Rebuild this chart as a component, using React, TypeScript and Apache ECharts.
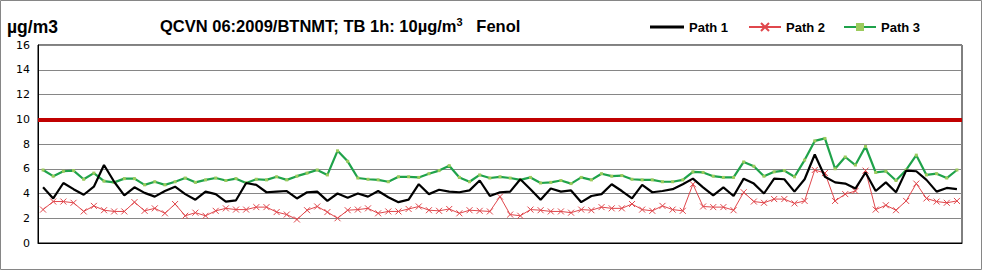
import React, { useEffect, useRef } from "react";
import * as echarts from "echarts";

const path1 = [
  4.5, 3.6, 4.85, 4.35, 3.9, 4.55, 6.3, 4.95, 3.85, 4.5, 4.05, 3.75, 4.2, 4.55, 3.95, 3.5,
  4.15, 3.95, 3.35, 3.45, 4.85, 4.7, 4.1, 4.15, 4.2, 3.6, 4.1, 4.15, 3.4, 4.0, 3.65,
  4.0, 3.75, 4.2, 3.7, 3.3, 3.5, 4.75, 3.95, 4.3, 4.15, 4.1, 4.25, 5.05, 3.8, 4.1,
  4.15, 5.15, 4.35, 3.5, 4.4, 4.15, 4.25, 3.3, 3.8, 3.95, 4.75, 4.2, 3.6, 4.7, 4.1,
  4.2, 4.35, 4.75, 5.2, 4.5, 3.85, 4.5, 3.8, 5.2, 4.8, 4.0, 5.2, 5.15, 4.15, 5.15,
  7.15, 5.35, 4.9, 4.8, 4.4, 5.7, 4.2, 4.9, 4.1, 5.85, 5.8, 5.1, 4.15, 4.45, 4.35,
];
const path2 = [
  2.7, 3.35, 3.35, 3.25, 2.55, 3.0, 2.65, 2.55, 2.55, 3.3, 2.6, 2.8, 2.4, 3.15, 2.2, 2.45,
  2.2, 2.6, 2.8, 2.7, 2.7, 2.9, 2.9, 2.5, 2.3, 1.9, 2.65, 2.95, 2.5, 2.0, 2.65,
  2.7, 2.8, 2.4, 2.55, 2.55, 2.75, 2.95, 2.65, 2.6, 2.75, 2.4, 2.65, 2.6, 2.55, 3.75,
  2.3, 2.2, 2.7, 2.65, 2.55, 2.55, 2.45, 2.7, 2.65, 2.9, 2.8, 2.8, 3.15, 2.7, 2.6,
  3.0, 2.7, 2.6, 4.75, 2.95, 2.9, 2.9, 2.65, 4.1, 3.35, 3.25, 3.55, 3.55, 3.2, 3.4,
  5.9, 5.65, 3.4, 3.95, 4.2, 5.85, 2.7, 3.05, 2.65, 3.4, 4.8, 3.6, 3.35, 3.25, 3.4,
];
const path3 = [
  5.9, 5.4, 5.8, 5.85, 5.15, 5.65, 5.0, 4.9, 5.2, 5.2, 4.7, 4.95, 4.7, 4.95, 5.25, 4.9,
  5.1, 5.25, 5.05, 5.2, 4.85, 5.15, 5.1, 5.35, 5.1, 5.4, 5.65, 5.9, 5.5, 7.45, 6.6,
  5.25, 5.15, 5.1, 4.95, 5.35, 5.35, 5.3, 5.6, 5.85, 6.25, 5.3, 4.95, 5.5, 5.25, 5.35,
  5.25, 5.1, 5.3, 4.85, 4.9, 5.05, 4.8, 5.3, 5.1, 5.6, 5.4, 5.45, 5.15, 5.1, 5.1,
  4.95, 4.95, 5.1, 5.75, 5.7, 5.4, 5.3, 5.3, 6.55, 6.2, 5.4, 5.75, 5.85, 5.35, 6.7,
  8.25, 8.45, 6.0, 6.95, 6.3, 7.8, 5.7, 5.8, 5.05, 5.9, 7.1, 5.5, 5.6, 5.25, 5.9,
];
const categories = path1.map((_, i) => String(i + 1));
const seriesNames = ["Path 1", "Path 2", "Path 3"];
const LIMIT = 10;
const Y_MIN = 0;
const Y_MAX = 16;
const Y_STEP = 2;
const unitLabel = "µg/m3";

const FONT = "'Liberation Sans', Arial, sans-serif";

const legendText = { fontFamily: FONT, fontSize: 13, fontWeight: "bold", color: "#000", height: 16, lineHeight: 16 };

export default function App() {
  const ref = useRef<HTMLDivElement>(null);
  useEffect(() => {
    if (!ref.current) return;
    const chart = echarts.init(ref.current, null, { renderer: "svg" });
    chart.setOption({
      animation: false,
      backgroundColor: "#fff",
      title: [
        {
          text: "QCVN 06:2009/BTNMT; TB 1h: 10µg/m{sup|3}   Fenol",
          left: 155,
          top: 11,
          textStyle: {
            fontFamily: FONT,
            fontSize: 16.5,
            fontWeight: "bold",
            color: "#000",
            rich: {
              sup: { fontFamily: FONT, fontSize: 11, fontWeight: "bold", verticalAlign: "top", padding: [0, 0, 8, 0], color: "#000" },
            },
          },
        },
        {
          text: unitLabel,
          left: 2,
          top: 13,
          textStyle: { fontFamily: FONT, fontSize: 17.5, fontWeight: "bold", color: "#000" },
        },
      ],
      legend: [
        {
          left: 650,
          top: 19,
          padding: 0,
          itemWidth: 34,
          itemHeight: 3,
          icon: "rect",
          textStyle: legendText,
          data: [seriesNames[0]],
        },
        {
          left: 748,
          top: 19,
          padding: 0,
          itemWidth: 32,
          itemHeight: 10,
          textStyle: legendText,
          data: [seriesNames[1]],
        },
        {
          left: 843,
          top: 19,
          padding: 0,
          itemWidth: 32,
          itemHeight: 10,
          textStyle: legendText,
          data: [seriesNames[2]],
        },
      ],
      graphic: [
        {
          type: "rect",
          shape: { x: 0.5, y: 0.5, width: 981, height: 269 },
          style: { fill: "none", stroke: "#868686", lineWidth: 1 },
          silent: true,
        },
      ],
      grid: {
        left: 38,
        right: 21,
        top: 45,
        bottom: 28,
        show: true,
        borderColor: "#000",
        borderWidth: 1,
      },
      xAxis: {
        type: "category",
        data: categories,
        boundaryGap: true,
        axisLine: { lineStyle: { color: "#000", width: 1 } },
        axisTick: { show: false },
        axisLabel: { show: false },
        splitLine: { show: false },
      },
      yAxis: {
        type: "value",
        min: Y_MIN,
        max: Y_MAX,
        interval: Y_STEP,
        axisLine: { show: true, lineStyle: { color: "#000", width: 1 } },
        axisTick: { show: false },
        axisLabel: { fontFamily: "'DejaVu Sans', Verdana, sans-serif", fontSize: 11, color: "#000", margin: 8 },
        splitLine: { lineStyle: { color: "#868686", width: 1 } },
      },
      series: [
        {
          name: seriesNames[0],
          type: "line",
          data: path1,
          symbol: "none",
          lineStyle: { color: "#000", width: 2.2 },
          itemStyle: { color: "#000" },
          z: 3,
          markLine: {
            silent: true,
            symbol: "none",
            label: { show: false },
            lineStyle: { color: "#C00000", width: 4, type: "solid" },
            data: [{ yAxis: LIMIT }],
          },
        },
        {
          name: seriesNames[1],
          type: "line",
          data: path2,
          symbol: "path://M0,0L10,10M10,0L0,10",
          symbolSize: 6,
          showSymbol: true,
          lineStyle: { color: "#E0474C", width: 1 },
          itemStyle: { color: "#E0474C", borderColor: "#E0474C", borderWidth: 1 },
          z: 2,
        },
        {
          name: seriesNames[2],
          type: "line",
          data: path3,
          symbol: "rect",
          symbolSize: 3,
          showSymbol: true,
          lineStyle: { color: "#1FA24A", width: 2.2 },
          itemStyle: { color: "#9CCB5C" },
          z: 1,
        },
      ],
    });
    return () => chart.dispose();
  }, []);
  return (
    <div
      ref={ref}
      style={{ position: "fixed", left: 0, top: 0, width: 983, height: 271 }}
    />
  );
}
